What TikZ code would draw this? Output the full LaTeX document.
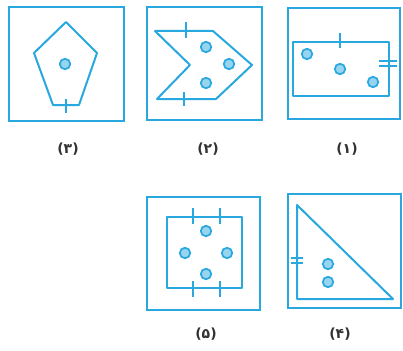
\documentclass[tikz,border=0pt]{standalone}
\usepackage{fontspec}
\newfontfamily\arabicfont[Script=Arabic]{DejaVu Sans}
\newfontfamily\parfont{DejaVu Sans}
\newcommand{\plab}[1]{\hbox{\parfont(}\hbox{\arabicfont #1}\hbox{\parfont)}}
\definecolor{lc}{RGB}{40,168,222}
\definecolor{cf}{RGB}{150,212,240}
\definecolor{tc}{RGB}{50,50,50}
\begin{document}
\begin{tikzpicture}[x=1pt,y=-1pt,
  frame/.style={draw=lc,line width=2.7pt},
  shp/.style={draw=lc,line width=2pt,line join=round},
  tk/.style={draw=lc,line width=1.7pt},
  dot/.style={circle,draw=lc,fill=cf,line width=1.7pt,minimum size=10.5pt,inner sep=0pt},
  lab/.style={text=tc,font=\fontsize{14}{16}\selectfont\bfseries}]
\useasboundingbox (0,0) rectangle (403,350);
% box 3 (top-left)
\draw[frame] (9,7) rectangle (124,121);
\draw[shp] (66,22) -- (97,53) -- (79,105) -- (53,105) -- (34,53) -- cycle;
\draw[tk] (66,99) -- (66,113);
\node[dot] (p1) at (65,64) {};
\node[lab] (l3) at (68,149) {\plab{۳}};
% box 2 (top-middle)
\draw[frame] (147,7) rectangle (262,120);
\draw[shp] (155,31) -- (213,31) -- (252,65) -- (216,99) -- (157,99) -- (190,65) -- cycle;
\draw[tk] (186,22) -- (186,38);
\draw[tk] (184,92) -- (184,106);
\node[dot] (q1) at (206,47) {};
\node[dot] (q2) at (229,64) {};
\node[dot] (q3) at (206,83) {};
\node[lab] (l2) at (208,149) {\plab{۲}};
% box 1 (top-right)
\draw[frame] (288,8) rectangle (400,119);
\draw[shp] (293,42) rectangle (389,96);
\draw[tk] (340,33) -- (340,48);
\draw[tk] (379,61) -- (397,61);
\draw[tk] (379,66) -- (397,66);
\node[dot] (r1) at (307,54) {};
\node[dot] (r2) at (340,69) {};
\node[dot] (r3) at (373,82) {};
\node[lab] (l1) at (347,149) {\plab{۱}};
% box 5 (bottom-middle)
\draw[frame] (147,197) rectangle (260,310);
\draw[shp] (167,217) rectangle (242,288);
\draw[tk] (193,208) -- (193,224);
\draw[tk] (220,208) -- (220,224);
\draw[tk] (193,281) -- (193,297);
\draw[tk] (220,281) -- (220,297);
\node[dot] (s1) at (206,231) {};
\node[dot] (s2) at (185,253) {};
\node[dot] (s3) at (227,253) {};
\node[dot] (s4) at (206,274) {};
\node[lab] (l5) at (206,334) {\plab{۵}};
% box 4 (bottom-right)
\draw[frame] (288,194) rectangle (401,308);
\draw[shp] (297,205) -- (393,299) -- (297,299) -- cycle;
\draw[tk] (291,258) -- (303,258);
\draw[tk] (291,263) -- (303,263);
\node[dot] (t1) at (328,264) {};
\node[dot] (t2) at (328,282) {};
\node[lab] (l4) at (340,334) {\plab{۴}};
\end{tikzpicture}
\end{document}
